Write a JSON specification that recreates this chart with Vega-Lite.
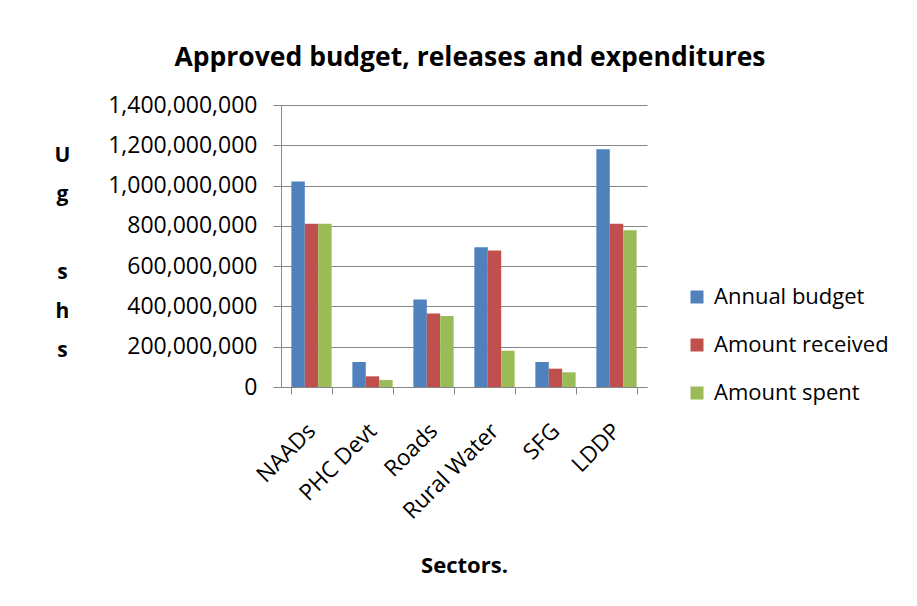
{
  "$schema": "https://vega.github.io/schema/vega-lite/v6.json",
  "width": 366,
  "height": 282,
  "autosize": {"type": "none"},
  "padding": {"left": 281, "top": 105, "right": 270, "bottom": 219},
  "background": "white",
  "title": {
    "text": "Approved budget, releases and expenditures",
    "fontSize": 26.5,
    "font": "Open Sans",
    "fontWeight": "bold",
    "color": "#000000",
    "anchor": "middle",
    "frame": "group",
    "offset": 23,
    "dx": 6
  },
  "data": {
    "values": [
      {"sector": "NAADs", "series": "Annual budget", "value": 1020000000},
      {"sector": "NAADs", "series": "Amount received", "value": 810000000},
      {"sector": "NAADs", "series": "Amount spent", "value": 810000000},
      {"sector": "PHC Devt", "series": "Annual budget", "value": 124000000},
      {"sector": "PHC Devt", "series": "Amount received", "value": 53000000},
      {"sector": "PHC Devt", "series": "Amount spent", "value": 35000000},
      {"sector": "Roads", "series": "Annual budget", "value": 435000000},
      {"sector": "Roads", "series": "Amount received", "value": 365000000},
      {"sector": "Roads", "series": "Amount spent", "value": 352000000},
      {"sector": "Rural Water", "series": "Annual budget", "value": 694000000},
      {"sector": "Rural Water", "series": "Amount received", "value": 678000000},
      {"sector": "Rural Water", "series": "Amount spent", "value": 180000000},
      {"sector": "SFG", "series": "Annual budget", "value": 124000000},
      {"sector": "SFG", "series": "Amount received", "value": 91000000},
      {"sector": "SFG", "series": "Amount spent", "value": 73000000},
      {"sector": "LDDP", "series": "Annual budget", "value": 1180000000},
      {"sector": "LDDP", "series": "Amount received", "value": 810000000},
      {"sector": "LDDP", "series": "Amount spent", "value": 778000000}
    ]
  },
  "mark": {"type": "bar"},
  "encoding": {
    "x": {
      "field": "sector",
      "type": "nominal",
      "sort": ["NAADs", "PHC Devt", "Roads", "Rural Water", "SFG", "LDDP"],
      "scale": {"paddingInner": 0.34, "paddingOuter": 0.17},
      "axis": {
        "title": "Sectors.",
        "titleFont": "Open Sans",
        "titleFontSize": 22,
        "titleFontWeight": "bold",
        "titleColor": "#000000",
        "titleY": 178,
        "titleBaseline": "middle",
        "labelAngle": -45,
        "labelAlign": "right",
        "labelBaseline": "middle",
        "labelFont": "Open Sans",
        "labelFontSize": 22.5,
        "labelColor": "#000000",
        "labelPadding": 33,
        "tickBand": "extent",
        "tickSize": 7,
        "tickColor": "#868686",
        "domainColor": "#868686",
        "grid": false
      }
    },
    "xOffset": {
      "field": "series",
      "type": "nominal",
      "sort": ["Annual budget", "Amount received", "Amount spent"],
      "scale": {"paddingInner": 0, "paddingOuter": 0}
    },
    "y": {
      "field": "value",
      "type": "quantitative",
      "scale": {"domain": [0, 1400000000]},
      "axis": {
        "values": [0, 200000000, 400000000, 600000000, 800000000, 1000000000, 1200000000, 1400000000],
        "format": ",d",
        "title": ["U", "g", "\u200b", "s", "h", "s"],
        "titleAngle": 0,
        "titleAlign": "center",
        "titleBaseline": "middle",
        "titleX": -219,
        "titleY": 50,
        "titleLineHeight": 39,
        "titleFont": "Open Sans",
        "titleFontSize": 21,
        "titleFontWeight": "bold",
        "titleColor": "#000000",
        "labelFont": "Open Sans",
        "labelFontSize": 23,
        "labelColor": "#000000",
        "labelPadding": 16,
        "tickSize": 8,
        "tickColor": "#868686",
        "domainColor": "#868686",
        "gridColor": "#868686",
        "gridWidth": 1
      }
    },
    "color": {
      "field": "series",
      "type": "nominal",
      "sort": ["Annual budget", "Amount received", "Amount spent"],
      "scale": {
        "domain": ["Annual budget", "Amount received", "Amount spent"],
        "range": ["#4F81BD", "#C0504D", "#9BBB59"]
      },
      "legend": {
        "title": null,
        "orient": "none",
        "legendX": 405,
        "legendY": 181,
        "symbolType": "square",
        "symbolSize": 169,
        "symbolStrokeWidth": 0,
        "symbolOpacity": 1,
        "labelFont": "Open Sans",
        "labelFontSize": 22,
        "labelLimit": 400,
        "labelColor": "#000000",
        "rowPadding": 26,
        "labelOffset": 6
      }
    }
  },
  "config": {
    "view": {"stroke": null}
  }
}
